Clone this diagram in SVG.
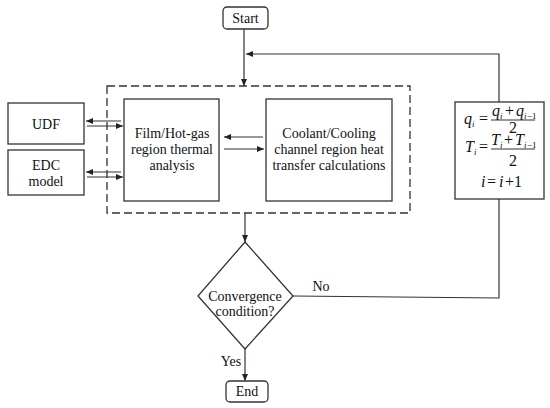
<svg xmlns="http://www.w3.org/2000/svg" width="550" height="408" viewBox="0 0 550 408" font-family="'Liberation Serif', 'Times New Roman', 'DejaVu Serif', serif">
<defs>
<marker id="ah" markerUnits="userSpaceOnUse" markerWidth="7" markerHeight="6" refX="7" refY="3" orient="auto">
<path d="M0,0 L7,3 L0,6 z" fill="#222"/>
</marker>
<style>
.box{fill:#fff;stroke:#333;stroke-width:1.3}
.ln{fill:none;stroke:#333;stroke-width:1.2}
.ar{fill:none;stroke:#333;stroke-width:1.2;marker-end:url(#ah)}
.t{font-size:14px;fill:#111;text-anchor:middle}
.m{font-size:16px;fill:#111;font-style:italic}
.mn{font-size:16px;fill:#111}
.s{font-size:9px;fill:#111;font-style:italic}
.sn{font-size:9px;fill:#111}
</style>
</defs>
<rect width="550" height="408" fill="#fff"/>
<g id="connectors">
<path class="ar" d="M244,29 L244,86"/>
<path class="ln" d="M293,296 L499,298 L499,199"/>
<path class="ar" d="M499,102 L499,54 L246,54"/>
<path class="ar" d="M121,121 L86,121"/>
<path class="ar" d="M87,126 L123,126"/>
<path class="ar" d="M121,172 L86,172"/>
<path class="ar" d="M87,177 L123,177"/>
<path class="ar" d="M263,137 L224,137"/>
<path class="ar" d="M224,149 L264,149"/>
<path class="ar" d="M245,213 L245,242"/>
<path class="ar" d="M245,349 L245,381"/>
<text class="t" x="231" y="366">Yes</text>
<text class="t" x="321" y="291">No</text>
</g>
<g id="loop-box">
<rect x="107" y="86" width="303" height="127" fill="none" stroke="#333" stroke-width="1.3" stroke-dasharray="8,4"/>
</g>
<g id="start">
<rect class="box" x="223" y="7" width="45" height="22" rx="4"/>
<text class="t" x="245.5" y="23">Start</text>
</g>
<g id="udf">
<rect class="box" x="8" y="103" width="76" height="41"/>
<text class="t" x="46" y="129">UDF</text>
</g>
<g id="edc">
<rect class="box" x="8" y="150" width="76" height="45"/>
<text class="t" x="46" y="170">EDC</text>
<text class="t" x="46" y="186">model</text>
</g>
<g id="film">
<rect class="box" x="124" y="99" width="95" height="102"/>
<text class="t" x="172" y="138">Film/Hot-gas</text>
<text class="t" x="172" y="154">region thermal</text>
<text class="t" x="172" y="170">analysis</text>
</g>
<g id="coolant">
<rect class="box" x="266" y="99" width="126" height="102"/>
<text class="t" x="329" y="138">Coolant/Cooling</text>
<text class="t" x="329" y="154">channel region heat</text>
<text class="t" x="329" y="170">transfer calculations</text>
</g>
<g id="update">
<rect class="box" x="455" y="102" width="89" height="97"/>
<text class="m" x="464" y="124">q</text><text class="s" x="472" y="127">i</text>
<text class="mn" x="479" y="124">=</text>
<text class="m" x="492" y="116">q</text><text class="s" x="500" y="119">i</text>
<text class="mn" x="505" y="116">+</text>
<text class="m" x="516" y="116">q</text><text class="s" x="524" y="119">i</text><text class="sn" x="527" y="119">−1</text>
<line class="ln" x1="491" y1="120" x2="535" y2="120" stroke-width="1"/>
<text class="mn" x="509" y="133" font-size="14">2</text>
<text class="m" x="465" y="152">T</text><text class="s" x="474" y="155">i</text>
<text class="mn" x="479" y="152">=</text>
<text class="m" x="491" y="145">T</text><text class="s" x="500" y="148">i</text>
<text class="mn" x="504" y="145">+</text>
<text class="m" x="515" y="145">T</text><text class="s" x="524" y="148">i</text><text class="sn" x="527" y="148">−1</text>
<line class="ln" x1="491" y1="149" x2="535" y2="149" stroke-width="1"/>
<text class="mn" x="509" y="166">2</text>
<text class="m" x="481" y="187">i</text>
<text class="mn" x="487" y="187">=</text>
<text class="m" x="499" y="187">i</text>
<text class="mn" x="505" y="187">+1</text>
</g>
<g id="convergence">
<path class="box" d="M245,242 L293,296 L245,349 L198,296 Z"/>
<text class="t" x="245" y="301">Convergence</text>
<text class="t" x="245" y="316">condition?</text>
</g>
<g id="end">
<rect class="box" x="226" y="381" width="42" height="21" rx="4"/>
<text class="t" x="247" y="396">End</text>
</g>
</svg>
